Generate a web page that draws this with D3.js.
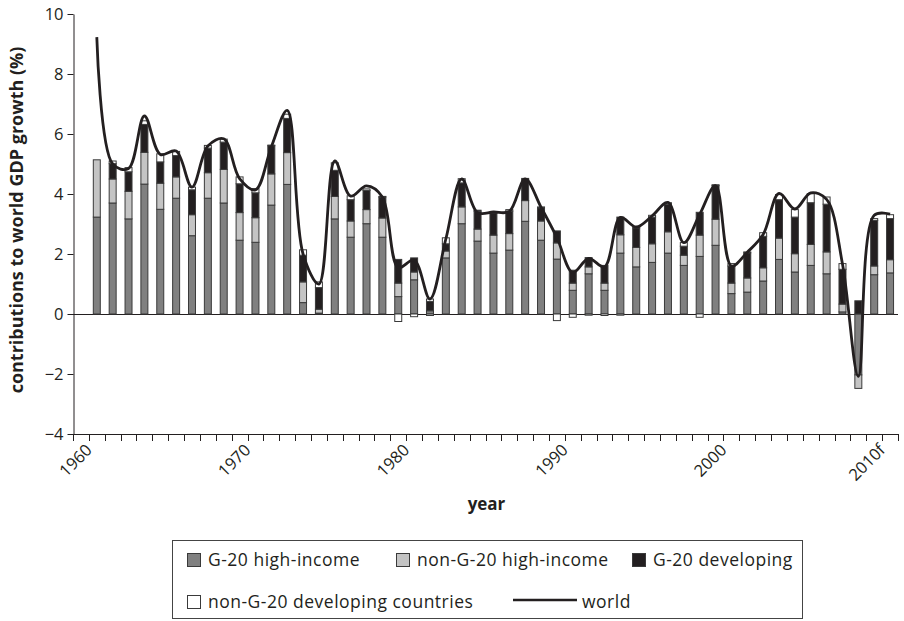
<!DOCTYPE html>
<html>
<head>
<meta charset="utf-8">
<script src="https://cdn.jsdelivr.net/npm/d3@7"></script>
<style>
  html, body { margin: 0; padding: 0; background: #fff; }
  svg { display: block; }
  text { font-family: "Open Sans", "DejaVu Sans", sans-serif; fill: #231f20; }
</style>
</head>
<body>
<svg id="chart" width="904" height="621"></svg>
<script>
// ---------- data ----------
const years = [1960,1961,1962,1963,1964,1965,1966,1967,1968,1969,
  1970,1971,1972,1973,1974,1975,1976,1977,1978,1979,
  1980,1981,1982,1983,1984,1985,1986,1987,1988,1989,
  1990,1991,1992,1993,1994,1995,1996,1997,1998,1999,
  2000,2001,2002,2003,2004,2005,2006,2007,2008,2009,
  2010,2011];

const tickYears = [1960, 1970, 1980, 1990, 2000, 2010];
const tickLabels = ["1960", "1970", "1980", "1990", "2000", "2010f"];

const g20HighIncome = [null,3.23,3.70,3.17,4.33,3.49,3.86,2.61,3.86,3.70,
  2.46,2.39,3.63,4.32,0.38,0.03,3.17,2.56,3.01,2.56,
  0.58,1.14,0.11,1.87,3.01,2.43,2.03,2.13,3.09,2.46,
  1.83,0.79,1.34,0.79,2.03,1.57,1.72,2.03,1.62,1.92,
  2.29,0.68,0.73,1.10,1.82,1.40,1.62,1.34,0.07,-2.03,
  1.31,1.37];

const nonG20HighIncome = [null,1.91,0.80,0.92,1.06,0.87,0.71,0.70,0.85,1.12,
  0.92,0.82,1.04,1.06,0.69,0.13,0.75,0.54,0.47,0.64,
  0.45,0.26,-0.05,0.23,0.56,0.40,0.60,0.55,0.69,0.64,
  0.54,0.24,0.23,0.24,0.61,0.65,0.62,0.71,0.34,0.71,
  0.87,0.35,0.47,0.44,0.71,0.61,0.70,0.73,0.26,-0.45,
  0.29,0.44];

const g20Developing = [null,0,0.51,0.65,0.93,0.71,0.71,0.83,0.82,0.91,
  0.96,0.83,0.94,1.14,0.89,0.72,0.87,0.71,0.64,0.70,
  0.79,0.47,0.31,0.24,0.80,0.60,0.74,0.75,0.71,0.44,
  0.40,0.43,0.31,0.59,0.59,0.65,0.89,0.92,0.30,0.76,
  1.12,0.57,0.84,1.05,1.28,1.22,1.39,1.59,1.16,0.44,
  1.52,1.37];

const nonG20Developing = [null,0,0.09,0.14,0.12,0.27,0.14,0.09,0.09,0.10,
  0.23,0.14,0.02,0.14,0.18,0.19,0.25,0.13,0.05,0.02,
  -0.25,-0.09,0.08,0.20,0.14,0.03,0.03,0.05,0.03,0.03,
  -0.22,-0.11,-0.04,-0.05,-0.04,0.03,0.06,0.05,0.12,-0.11,
  0.03,0.08,0.03,0.12,0.17,0.25,0.30,0.24,0.19,0,
  0.06,0.13];

const world = [null,9.23,5.00,4.85,6.60,5.32,5.43,4.23,5.60,5.84,
  4.51,4.14,5.57,6.79,2.00,1.00,5.10,3.93,4.27,3.90,
  1.55,1.80,0.50,2.50,4.50,3.38,3.40,3.42,4.50,3.56,
  2.55,1.38,1.85,1.57,3.22,2.90,3.27,3.72,2.38,3.32,
  4.28,1.60,2.06,2.65,4.02,3.50,4.04,3.82,1.67,-2.08,
  3.29,3.33];

const seriesNames = ["G-20 high-income", "non-G-20 high-income", "G-20 developing", "non-G-20 developing countries"];
const seriesColors = ["#808080", "#c4c4c4", "#231f20", "#ffffff"];
const yTicks = [-4, -2, 0, 2, 4, 6, 8, 10];

// ---------- layout ----------
const svg = d3.select("#chart");
const plotLeft = 73, plotRight = 898, plotTop = 14, plotBottom = 434;

const x = d3.scaleBand().domain(years).range([plotLeft, plotRight])
  .paddingInner(0.56).paddingOuter(0.28);
const y = d3.scaleLinear().domain([-4, 10]).range([plotBottom, plotTop]);

// stacked data
const rows = years.map((yr, i) => ({
  year: yr,
  s0: g20HighIncome[i] || 0,
  s1: nonG20HighIncome[i] || 0,
  s2: g20Developing[i] || 0,
  s3: nonG20Developing[i] || 0
}));
const keys = ["s0", "s1", "s2", "s3"];
const stacked = d3.stack().keys(keys).offset(d3.stackOffsetDiverging)(rows);

// zero line
svg.append("line")
  .attr("x1", plotLeft).attr("x2", plotRight)
  .attr("y1", Math.round(y(0)) + 0.5).attr("y2", Math.round(y(0)) + 0.5)
  .attr("stroke", "#231f20").attr("stroke-width", 1);

// bars
stacked.forEach((layer, li) => {
  svg.append("g")
    .selectAll("rect")
    .data(layer.filter(d => d[1] !== d[0]))
    .join("rect")
    .attr("x", d => x(d.data.year))
    .attr("width", x.bandwidth())
    .attr("y", d => y(Math.max(d[0], d[1])))
    .attr("height", d => Math.abs(y(d[0]) - y(d[1])))
    .attr("fill", seriesColors[li])
    .attr("stroke", "#3a3a3a")
    .attr("stroke-width", 1);
});

// world line
const line = d3.line()
  .defined(d => d.v !== null)
  .x(d => x(d.year) + x.bandwidth() / 2)
  .y(d => y(d.v))
  .curve(d3.curveCatmullRom.alpha(0.5));
svg.append("path")
  .datum(years.map((yr, i) => ({ year: yr, v: world[i] })))
  .attr("d", line)
  .attr("fill", "none")
  .attr("stroke", "#231f20")
  .attr("stroke-width", 2.8)
  .attr("stroke-linejoin", "round");

// y axis
const yAxis = svg.append("g")
  .attr("transform", `translate(${plotLeft + 0.5},0)`)
  .call(d3.axisLeft(y).tickValues(yTicks).tickSize(6).tickPadding(4).tickSizeOuter(0));
yAxis.select(".domain").attr("stroke", "#231f20");
yAxis.selectAll(".tick line").attr("stroke", "#231f20");
yAxis.selectAll(".tick text")
  .style("font-family", '"Open Sans", sans-serif')
  .style("font-size", "16.5px")
  .attr("fill", "#231f20");

// x axis: ticks at category boundaries
const step = x.step();
const boundaries = years.map(yr => x(yr) - x.paddingInner() * step / 2).concat([plotRight]);
const xAxisG = svg.append("g");
xAxisG.append("line")
  .attr("x1", plotLeft).attr("x2", plotRight)
  .attr("y1", plotBottom + 0.5).attr("y2", plotBottom + 0.5)
  .attr("stroke", "#231f20");
xAxisG.selectAll("line.tick")
  .data(boundaries)
  .join("line")
  .attr("class", "tick")
  .attr("x1", d => Math.round(d) + 0.5).attr("x2", d => Math.round(d) + 0.5)
  .attr("y1", plotBottom).attr("y2", plotBottom + 7)
  .attr("stroke", "#231f20");
xAxisG.selectAll("text")
  .data(tickYears)
  .join("text")
  .attr("transform", (d) => `translate(${x(d) + x.bandwidth() / 2 + 8},${plotBottom + 13}) rotate(-45)`)
  .attr("text-anchor", "end")
  .attr("dy", "0.35em")
  .style("font-size", "16.5px")
  .text((d, i) => tickLabels[i]);

// axis titles
svg.append("text")
  .attr("x", (plotLeft + plotRight) / 2 + 1).attr("y", 510)
  .attr("text-anchor", "middle")
  .style("font-size", "17px").style("font-weight", "bold")
  .text("year");
svg.append("text")
  .attr("transform", `translate(23,${(plotTop + plotBottom) / 2 - 4}) rotate(-90)`)
  .attr("text-anchor", "middle")
  .style("font-size", "18px").style("font-weight", "bold")
  .text("contributions to world GDP growth (%)");

// legend
const lg = svg.append("g");
lg.append("rect")
  .attr("x", 172.5).attr("y", 540.5).attr("width", 630).attr("height", 78)
  .attr("fill", "#fff").attr("stroke", "#444").attr("stroke-width", 1);
const legendItems = [
  { i: 0, x: 187, y: 553 },
  { i: 1, x: 396, y: 553 },
  { i: 2, x: 632, y: 553 },
  { i: 3, x: 187, y: 595 }
];
legendItems.forEach(it => {
  lg.append("rect")
    .attr("x", it.x + 0.5).attr("y", it.y + 0.5).attr("width", 13).attr("height", 13)
    .attr("fill", seriesColors[it.i]).attr("stroke", "#3a3a3a");
  lg.append("text")
    .attr("x", it.x + 21).attr("y", it.y + 13)
    .style("font-size", "17.5px")
    .style("letter-spacing", "0.5px")
    .text(seriesNames[it.i]);
});
lg.append("line")
  .attr("x1", 513).attr("x2", 577).attr("y1", 600).attr("y2", 600)
  .attr("stroke", "#231f20").attr("stroke-width", 2.4);
lg.append("text")
  .attr("x", 582).attr("y", 608)
  .style("font-size", "17.5px")
  .style("letter-spacing", "0.5px")
  .text("world");
</script>
</body>
</html>
